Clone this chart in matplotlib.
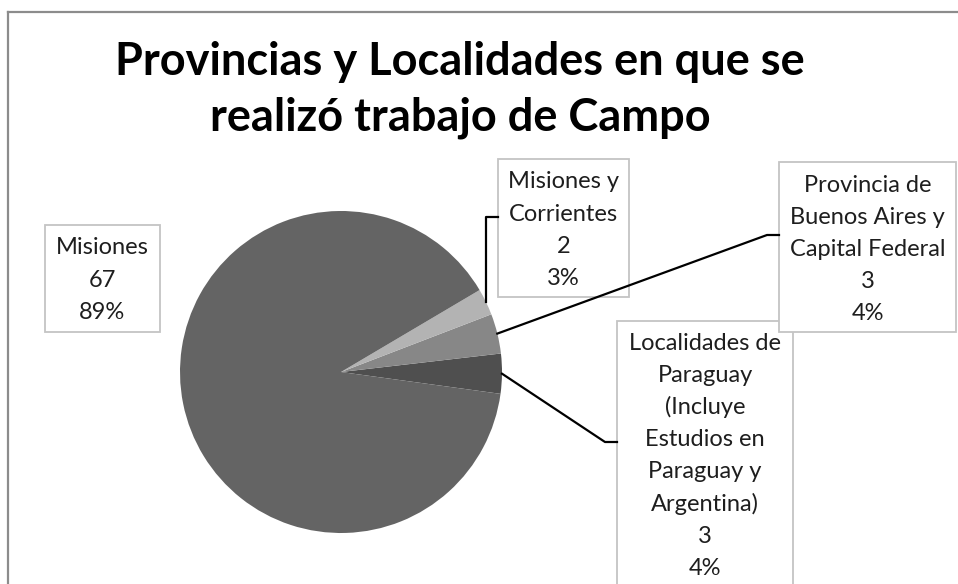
import numpy as np
import matplotlib.pyplot as plt
from matplotlib.lines import Line2D
from matplotlib.patches import Rectangle

# data (counterclockwise order, as drawn)
categories = ["Localidades de\nParaguay\n(Incluye\nEstudios en\nParaguay y\nArgentina)",
              "Provincia de\nBuenos Aires y\nCapital Federal",
              "Misiones y\nCorrientes",
              "Misiones"]
values = [3, 3, 2, 67]
colors = ["#4f4f4f", "#878787", "#b3b3b3", "#646464"]
title = "Provincias y Localidades en que se\nrealizó trabajo de Campo"

W, H = 958, 584
fig = plt.figure(figsize=(W / 100, H / 100), dpi=100)
plt.rcParams['font.family'] = ['Lato', 'DejaVu Sans']


def fx(x):
    return x / W


def fy(y):
    # pixel y from the top -> figure fraction
    return 1 - y / H


# outer chart frame (cut at right and bottom like the source)
fig.add_artist(Line2D([fx(8), fx(8)], [fy(12), fy(H + 5)], color="#8c8c8c", lw=1.6))
fig.add_artist(Line2D([fx(8), fx(W + 5)], [fy(12), fy(12)], color="#8c8c8c", lw=1.6))

# title
for i, line in enumerate(title.split("\n")):
    fig.text(fx(460), fy(62 + 56 * i), line, ha="center", va="center",
             fontsize=32.5, fontweight="bold", color="black")

# pie, center (341, 372), radius 161 px
cx, cy, r = 341, 372, 161
ax = fig.add_axes([fx(cx - r), fy(cy + r), 2 * r / W, 2 * r / H])
wedges, _ = ax.pie(values, colors=colors, startangle=-7.8, counterclock=True,
                   radius=1, wedgeprops=dict(linewidth=0))
ax.set_xlim(-1, 1)
ax.set_ylim(-1, 1)
ax.set_aspect("equal")
ax.axis("off")

total = sum(values)


def edge_px(w):
    # point on the pie rim at the wedge's mid angle, in pixels from the top
    a = np.deg2rad((w.theta1 + w.theta2) / 2)
    px, py = ax.transData.transform((np.cos(a), np.sin(a)))
    return px, H - py


# label boxes: (left, top, right, bottom) in pixels, and leader knee
boxes = {
    "Misiones": ((45, 225, 160, 332), None),
    "Misiones y\nCorrientes": ((498, 159, 629, 297), "vertical"),
    "Provincia de\nBuenos Aires y\nCapital Federal": ((779, 162, 956, 332), (767, 235)),
    "Localidades de\nParaguay\n(Incluye\nEstudios en\nParaguay y\nArgentina)": ((617, 321, 793, 600), (605, 442)),
}
first_line_y = {
    "Misiones": 248,
    "Misiones y\nCorrientes": 182,
    "Provincia de\nBuenos Aires y\nCapital Federal": 185,
    "Localidades de\nParaguay\n(Incluye\nEstudios en\nParaguay y\nArgentina)": 343,
}
line_h = 32.2

for w, name, val in zip(wedges, categories, values):
    (l, t, rr, b), knee = boxes[name]
    fig.add_artist(Rectangle((fx(l), fy(b)), fx(rr - l), (b - t) / H,
                             facecolor="white", edgecolor="#c4c4c4", lw=1.3))
    lines = name.split("\n") + [str(val), f"{100 * val / total:.0f}%"]
    y0 = first_line_y[name]
    for i, s in enumerate(lines):
        fig.text(fx((l + rr) / 2), fy(y0 + i * line_h), s, ha="center", va="center",
                 fontsize=17, color="#1e1e1e")
    # leader line
    if knee is None:
        continue
    ex, ey = edge_px(w)
    if knee == "vertical":
        ky = 217
        xs, ys = [ex, ex, l], [ey, ky, ky]
    else:
        kx, ky = knee
        xs, ys = [ex, kx, l], [ey, ky, ky]
    fig.add_artist(Line2D([fx(x) for x in xs], [fy(y) for y in ys], color="black", lw=1.6))

fig.savefig("out.png", dpi=100)
